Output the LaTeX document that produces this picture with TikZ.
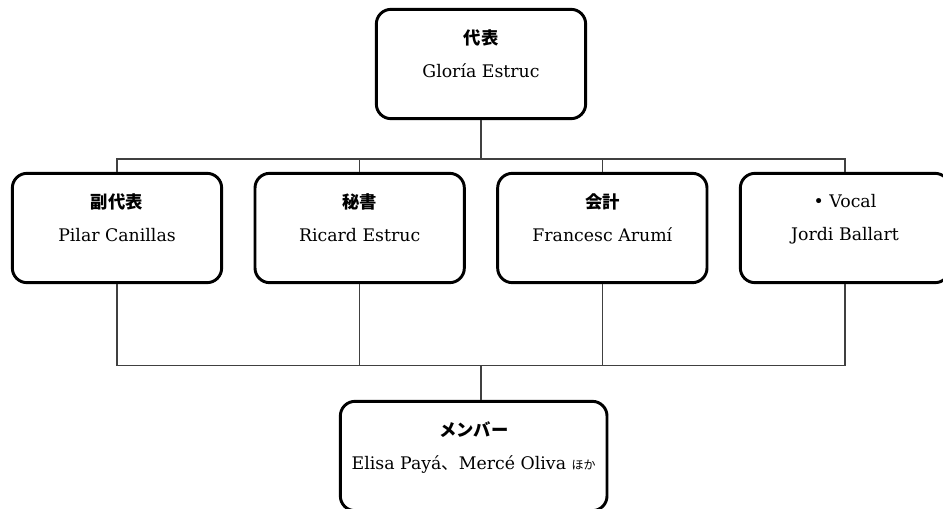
\documentclass[tikz,border=0pt]{standalone}
\usepackage{fontspec}
\setmainfont{DejaVu Serif}
\newfontfamily\jp{Noto Sans CJK JP}
\usetikzlibrary{positioning}

\begin{document}
\begin{tikzpicture}[x=0.75pt,y=0.75pt,node distance=123pt,
  role box/.style={draw,line width=2.2pt,rounded corners=11pt,fill=white,
    minimum width=157pt,minimum height=82pt,align=center,
    font=\fontsize{13}{15}\selectfont,text depth=16pt},
  link/.style={draw=black!75,line width=1.2pt}]

  \useasboundingbox (0,0) rectangle (943,-508);

  % top and second row
  \node[role box] (rep) at (481,-64) {{\jp\bfseries 代表}\\[10pt]Gloría Estruc};
  \node[role box] (sec) [below of=rep, xshift=-91pt] {{\jp\bfseries 秘書}\\[10pt]Ricard Estruc};
  \node[role box] (treas) [below of=rep, xshift=91pt] {{\jp\bfseries 会計}\\[10pt]Francesc Arumí};
  \node[role box, node distance=182pt] (dep) [left of=sec] {{\jp\bfseries 副代表}\\[10pt]Pilar Canillas};
  \node[role box, node distance=182pt] (voc) [right of=treas] {• Vocal\\[10pt]Jordi Ballart};

  % members
  \node[role box, minimum width=200pt, node distance=294pt] (mem) [below of=rep, xshift=-5.5pt]
    {{\jp\bfseries メンバー}\\[10pt]Elisa Payá{\jp 、}Mercé Oliva {\jp\fontsize{9}{10}\selectfont ほか}};

  \coordinate[below=29pt of rep.south] (upper bus);
  \coordinate[below=61pt of sec.south] (lower bus);

  \path[link] (rep.south) -- (upper bus);
  \path[link] (dep.north) |- (upper bus) -| (voc.north);
  \path[link] (sec.north) -- (sec.north |- upper bus);
  \path[link] (treas.north) -- (treas.north |- upper bus);

  \path[link] (dep.south) |- (lower bus) -| (voc.south);
  \path[link] (sec.south) -- (sec.south |- lower bus);
  \path[link] (treas.south) -- (treas.south |- lower bus);
  \path[link] (rep.south |- lower bus) -- (rep.south |- mem.north);

\end{tikzpicture}
\end{document}
